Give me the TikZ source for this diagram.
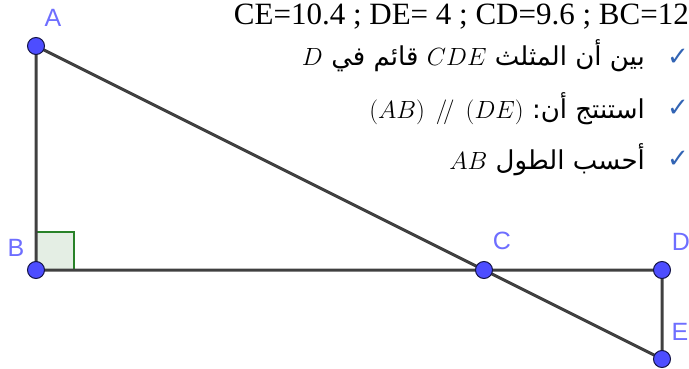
\documentclass[tikz,border=0pt]{standalone}
\usepackage{fontspec}
\setmainfont{Liberation Serif}
\newfontfamily\arabicfont[Script=Arabic]{DejaVu Sans}
\newfontfamily\symfont{DejaVu Sans}
\newfontfamily\labfont{Liberation Sans}
\TeXXeTstate=1
\definecolor{ptblue}{RGB}{77,77,255}
\definecolor{ptedge}{RGB}{20,20,70}
\definecolor{segc}{RGB}{64,64,64}
\definecolor{labblue}{RGB}{110,110,255}
\definecolor{chk}{RGB}{50,100,180}
\definecolor{sqfill}{RGB}{228,238,228}
\definecolor{sqdraw}{RGB}{40,130,40}
\begin{document}
\begin{tikzpicture}[x=1pt,y=-1pt,
  seg/.style={draw=segc,line width=3pt},
  pt/.style={circle,fill=ptblue,draw=ptedge,line width=1pt,minimum size=17pt,inner sep=0pt},
  lab/.style={text=labblue,font=\labfont\fontsize{25}{25}\selectfont,inner sep=0pt},
  ar/.style={font=\arabicfont\fontsize{26}{30}\selectfont,inner sep=0pt,anchor=base east},
  mth/.style={font=\fontsize{25}{30}\selectfont,inner sep=0pt,anchor=base east},
  ck/.style={text=chk,font=\symfont\fontsize{26}{26}\selectfont,inner sep=0pt}]
\useasboundingbox (0,0) rectangle (689,369);
\coordinate (A) at (36,46);
\coordinate (B) at (36,270);
\coordinate (C) at (484,270);
\coordinate (D) at (662,270);
\coordinate (E) at (662,359);
\filldraw[fill=sqfill,draw=sqdraw,line width=2pt] (36,232) rectangle (74,270);
\draw[seg] (A) -- (B) -- (D) -- (E) -- (A);
\foreach \p in {A,B,C,D,E} \node[pt] (\p n) at (\p) {};
\node[lab] (lA) at (53,18) {A};
\node[lab] (lB) at (16,248) {B};
\node[lab] (lC) at (502,241) {C};
\node[lab] (lD) at (681,242) {D};
\node[lab] (lE) at (680,332) {E};
\node[anchor=base east,inner sep=0pt,font=\fontsize{31}{31}\selectfont] (hdr) at (689,25) {CE=10.4 ; DE= 4 ; CD=9.6 ; BC=12};
% checks
\node[ck] (c1) at (678,57) {✓};
\node[ck] (c2) at (678,108) {✓};
\node[ck] (c3) at (678,159) {✓};
% line 1
\node[ar] (l1a) at (645,66) {\beginR بين أن المثلث\endR};
\node[mth] (l1b) at ([xshift=-8pt]l1a.base west) {$CDE$};
\node[ar] (l1c) at ([xshift=-8pt]l1b.base west) {\beginR قائم في\endR};
\node[mth] (l1d) at ([xshift=-8pt]l1c.base west) {$D$};
% line 2
\node[ar] (l2a) at (645,118) {\beginR استنتج أن:\endR};
\node[mth] (l2b) at ([xshift=-8pt]l2a.base west) {$(AB)\;\,/\!/\;\,(DE)$};
% line 3
\node[ar] (l3a) at (645,169) {\beginR أحسب الطول\endR};
\node[mth] (l3b) at ([xshift=-8pt]l3a.base west) {$AB$};
\end{tikzpicture}
\end{document}
